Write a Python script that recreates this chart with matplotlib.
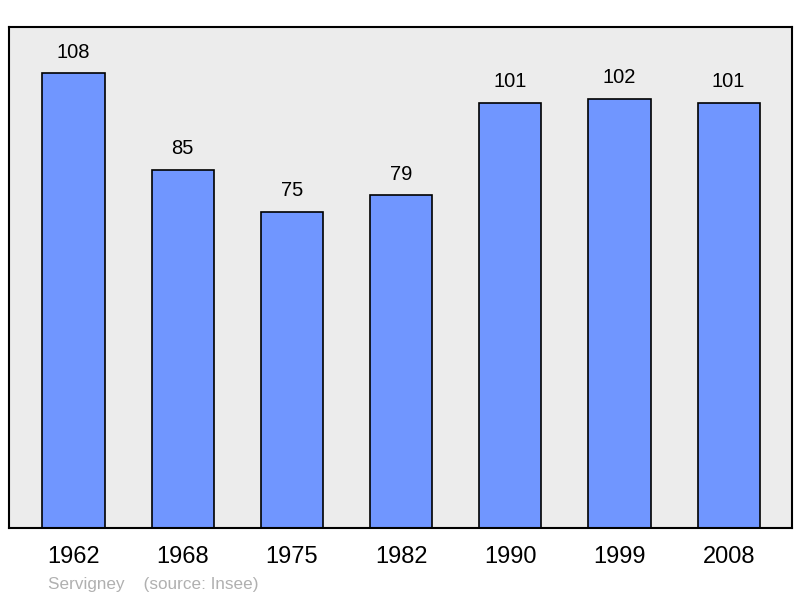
import matplotlib
matplotlib.use("Agg")
import matplotlib.pyplot as plt

years = ["1962", "1968", "1975", "1982", "1990", "1999", "2008"]
population = [108, 85, 75, 79, 101, 102, 101]

plt.rcParams['font.family'] = ['Liberation Sans', 'DejaVu Sans']

fig = plt.figure(figsize=(8, 5.98), dpi=100)
ax = fig.add_axes([9/800, 70/598, 783/800, 501/598])
ax.set_facecolor('#ececec')

x = range(len(years))
bars = ax.bar(x, population, width=0.57, color='#7096ff', edgecolor='black', linewidth=1.2)

for xi, v in zip(x, population):
    ax.annotate(str(v), (xi, v), xytext=(0, 8.5), textcoords='offset points',
                ha='center', va='bottom', fontsize=14.5)

ax.set_xlim(-0.59, 6.58)
ax.set_ylim(0, 119)
ax.set_yticks([])
ax.set_xticks(list(x))
ax.set_xticklabels(years, fontsize=17)
ax.tick_params(axis='x', length=0, pad=13)
for s in ax.spines.values():
    s.set_linewidth(1.5)

fig.text(48/800, 1 - 584/598, "Servigney    (source: Insee)", color='#b0b0b0',
         fontsize=12.3, va='center', ha='left')

fig.savefig("out.png", dpi=100)
